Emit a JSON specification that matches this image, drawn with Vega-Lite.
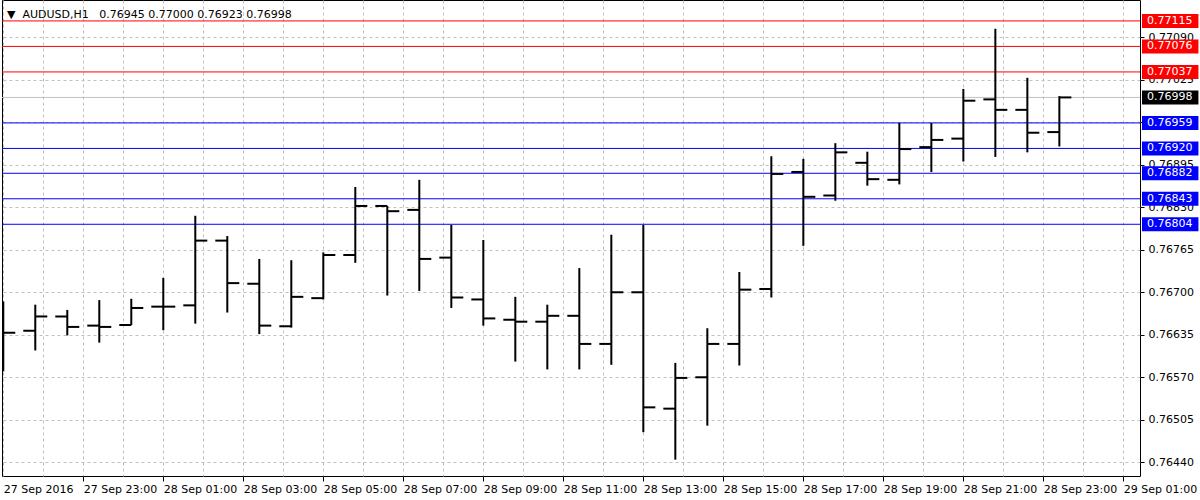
{
  "$schema": "https://vega.github.io/schema/vega-lite/v6.json",
  "width": 1138,
  "height": 476,
  "autosize": "none",
  "padding": {"left": 2, "top": 0, "right": 60, "bottom": 24},
  "background": "#ffffff",
  "config": {
    "font": "DejaVu Sans",
    "view": {"stroke": "#000000", "strokeWidth": 1}
  },
  "title": {
    "text": "▼\u00a0\u00a0AUDUSD,H1\u00a0\u00a0\u00a00.76945 0.77000 0.76923 0.76998",
    "anchor": "start",
    "frame": "group",
    "orient": "top",
    "offset": -29,
    "dx": 5,
    "baseline": "alphabetic",
    "font": "DejaVu Sans",
    "fontSize": 11,
    "fontWeight": "normal",
    "color": "#000000"
  },
  "datasets": {
    "bars": [
      {"bar": 0, "open": null, "high": 0.76686, "low": 0.76579, "close": 0.76638},
      {"bar": 1, "open": 0.76641, "high": 0.76681, "low": 0.76611, "close": 0.76663},
      {"bar": 2, "open": 0.76663, "high": 0.76673, "low": 0.76634, "close": 0.76647},
      {"bar": 3, "open": 0.76649, "high": 0.76688, "low": 0.76623, "close": 0.76647},
      {"bar": 4, "open": 0.76650, "high": 0.76690, "low": 0.76650, "close": 0.76676},
      {"bar": 5, "open": 0.76678, "high": 0.76722, "low": 0.76642, "close": 0.76678},
      {"bar": 6, "open": 0.76680, "high": 0.76817, "low": 0.76652, "close": 0.76779},
      {"bar": 7, "open": 0.76779, "high": 0.76786, "low": 0.76669, "close": 0.76714},
      {"bar": 8, "open": 0.76713, "high": 0.76751, "low": 0.76636, "close": 0.76649},
      {"bar": 9, "open": 0.76648, "high": 0.76749, "low": 0.76646, "close": 0.76693},
      {"bar": 10, "open": 0.76691, "high": 0.76761, "low": 0.76689, "close": 0.76757},
      {"bar": 11, "open": 0.76757, "high": 0.76861, "low": 0.76745, "close": 0.76832},
      {"bar": 12, "open": 0.76832, "high": 0.76832, "low": 0.76695, "close": 0.76824},
      {"bar": 13, "open": 0.76826, "high": 0.76872, "low": 0.76702, "close": 0.76751},
      {"bar": 14, "open": 0.76753, "high": 0.76803, "low": 0.76676, "close": 0.76692},
      {"bar": 15, "open": 0.76689, "high": 0.76780, "low": 0.76649, "close": 0.76660},
      {"bar": 16, "open": 0.76658, "high": 0.76693, "low": 0.76594, "close": 0.76655},
      {"bar": 17, "open": 0.76655, "high": 0.76681, "low": 0.76582, "close": 0.76664},
      {"bar": 18, "open": 0.76664, "high": 0.76737, "low": 0.76582, "close": 0.76621},
      {"bar": 19, "open": 0.76621, "high": 0.76788, "low": 0.76589, "close": 0.76700},
      {"bar": 20, "open": 0.76700, "high": 0.76803, "low": 0.76486, "close": 0.76524},
      {"bar": 21, "open": 0.76522, "high": 0.76592, "low": 0.76444, "close": 0.76569},
      {"bar": 22, "open": 0.76570, "high": 0.76645, "low": 0.76496, "close": 0.76621},
      {"bar": 23, "open": 0.76621, "high": 0.76731, "low": 0.76588, "close": 0.76704},
      {"bar": 24, "open": 0.76705, "high": 0.76908, "low": 0.76692, "close": 0.76881},
      {"bar": 25, "open": 0.76884, "high": 0.76904, "low": 0.76771, "close": 0.76846},
      {"bar": 26, "open": 0.76848, "high": 0.76928, "low": 0.76840, "close": 0.76914},
      {"bar": 27, "open": 0.76898, "high": 0.76915, "low": 0.76863, "close": 0.76873},
      {"bar": 28, "open": 0.76872, "high": 0.76959, "low": 0.76865, "close": 0.76919},
      {"bar": 29, "open": 0.76922, "high": 0.76959, "low": 0.76884, "close": 0.76933},
      {"bar": 30, "open": 0.76935, "high": 0.77011, "low": 0.76900, "close": 0.76993},
      {"bar": 31, "open": 0.76995, "high": 0.77103, "low": 0.76907, "close": 0.76979},
      {"bar": 32, "open": 0.76979, "high": 0.77028, "low": 0.76914, "close": 0.76944},
      {"bar": 33, "open": 0.76945, "high": 0.77000, "low": 0.76923, "close": 0.76998}
    ],
    "levels": [
      {"price": 0.77115, "kind": "resistance"},
      {"price": 0.77076, "kind": "resistance"},
      {"price": 0.77037, "kind": "resistance"},
      {"price": 0.76998, "kind": "bid"},
      {"price": 0.76959, "kind": "support"},
      {"price": 0.76920, "kind": "support"},
      {"price": 0.76882, "kind": "support"},
      {"price": 0.76843, "kind": "support"},
      {"price": 0.76804, "kind": "support"}
    ]
  },
  "layer": [
    {
      "data": {"name": "levels"},
      "mark": {"type": "rule", "strokeWidth": 1},
      "encoding": {
        "y": {
          "field": "price",
          "type": "quantitative",
          "scale": {"domain": [0.76419, 0.77147], "nice": false, "zero": false},
          "axis": {
            "orient": "right",
            "title": null,
            "values": [0.7644, 0.76505, 0.7657, 0.76635, 0.767, 0.76765, 0.7683, 0.76895, 0.7696, 0.77025, 0.7709],
            "format": ".5f",
            "domain": false,
            "ticks": true,
            "tickSize": 4,
            "tickColor": "#000000",
            "labelPadding": 4,
            "labelFont": "DejaVu Sans",
            "labelFontSize": 11,
            "labelColor": "#000000",
            "labelOverlap": false,
            "labelFlush": false,
            "labelBound": false,
            "grid": true,
            "gridColor": "#c0c0c0",
            "gridDash": [3, 3],
            "gridOpacity": 1
          }
        },
        "color": {
          "field": "kind",
          "type": "nominal",
          "scale": {"domain": ["resistance", "bid", "support"], "range": ["#ff0000", "#c0c0c0", "#0000ff"]},
          "legend": null
        }
      }
    },
    {
      "data": {"name": "bars"},
      "mark": {"type": "rule", "color": "#000000", "strokeWidth": 2},
      "encoding": {
        "x": {
          "field": "bar",
          "type": "quantitative",
          "scale": {"domain": [-0.04, 35.52], "nice": false, "zero": false},
          "axis": {
            "title": null,
            "values": [0, 1.25, 2.5, 3.75, 5, 6.25, 7.5, 8.75, 10, 11.25, 12.5, 13.75, 15, 16.25, 17.5, 18.75, 20, 21.25, 22.5, 23.75, 25, 26.25, 27.5, 28.75, 30, 31.25, 32.5, 33.75, 35],
            "labelExpr": "datum.value == 0 ? '27 Sep 2016' : (datum.value % 2.5 == 0 ? timeFormat(datetime(2016, 8, 27, 21 + 2 * round(datum.value / 2.5)), '%d %b %H:%M') : '')",
            "domain": false,
            "tickSize": 5,
            "tickColor": "#000000",
            "tickOpacity": {"condition": {"test": "datum.value % 2.5 == 0 && datum.value > 0", "value": 1}, "value": 0},
            "labelAlign": "left",
            "labelBaseline": "top",
            "labelPadding": 2,
            "labelFont": "DejaVu Sans",
            "labelFontSize": 11,
            "labelColor": "#000000",
            "labelOverlap": false,
            "labelFlush": false,
            "labelBound": false,
            "grid": true,
            "gridColor": "#c0c0c0",
            "gridDash": [3, 3],
            "gridOpacity": 1
          }
        },
        "y": {"field": "low", "type": "quantitative"},
        "y2": {"field": "high"}
      }
    },
    {
      "data": {"name": "bars"},
      "mark": {"type": "tick", "orient": "horizontal", "color": "#000000", "opacity": 1, "size": 12, "thickness": 2, "xOffset": -6, "clip": true},
      "encoding": {
        "x": {"field": "bar", "type": "quantitative"},
        "y": {"field": "open", "type": "quantitative"}
      }
    },
    {
      "data": {"name": "bars"},
      "mark": {"type": "tick", "orient": "horizontal", "color": "#000000", "opacity": 1, "size": 12, "thickness": 2, "xOffset": 6},
      "encoding": {
        "x": {"field": "bar", "type": "quantitative"},
        "y": {"field": "close", "type": "quantitative"}
      }
    },
    {
      "data": {"name": "levels"},
      "mark": {"type": "point", "filled": true, "opacity": 1, "strokeWidth": 0, "shape": "M0.07,-0.246H2.05V0.246H0.07Z", "size": 3249},
      "encoding": {
        "x": {"datum": 35.52, "type": "quantitative"},
        "y": {"field": "price", "type": "quantitative"},
        "color": {
          "field": "kind",
          "type": "nominal",
          "scale": {"domain": ["resistance", "bid", "support"], "range": ["#ff0000", "#000000", "#0000ff"]},
          "legend": null
        }
      }
    },
    {
      "data": {"name": "levels"},
      "mark": {"type": "text", "align": "left", "baseline": "middle", "dx": 7, "color": "#ffffff", "font": "DejaVu Sans", "fontSize": 11},
      "encoding": {
        "x": {"datum": 35.52, "type": "quantitative"},
        "y": {"field": "price", "type": "quantitative"},
        "text": {"field": "price", "type": "quantitative", "format": ".5f"}
      }
    }
  ],
  "resolve": {"scale": {"color": "independent"}}
}
